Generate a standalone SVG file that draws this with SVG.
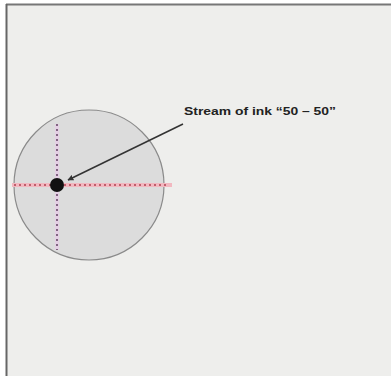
<svg xmlns="http://www.w3.org/2000/svg" width="391" height="377" viewBox="0 0 391 377">
<defs>
<style>
.lbl{font-family:"Liberation Sans",Arial,sans-serif;font-weight:bold;font-size:11px;fill:#222}
</style>
<marker id="ah" viewBox="0 0 10 10" refX="9" refY="5" markerWidth="6" markerHeight="6" orient="auto-start-reverse" markerUnits="userSpaceOnUse">
<path d="M0,0 L10,5 L0,10 z" fill="#333"/>
</marker>
</defs>
<rect x="0" y="0" width="391" height="377" fill="#ffffff"/>
<rect x="6" y="4" width="385" height="372" fill="#eeeeec"/>
<line x1="6" y1="4.5" x2="391" y2="4.5" stroke="#777" stroke-width="2"/>
<line x1="6.5" y1="4" x2="6.5" y2="376" stroke="#666" stroke-width="2"/>
<g id="circle">
<circle cx="89" cy="185" r="75" fill="#dcdcdc" stroke="#8a8a8a" stroke-width="1.2"/>
</g>
<g id="axes">
<line x1="12" y1="185" x2="172" y2="185" stroke="#f2b8c0" stroke-width="4"/>
<line x1="14" y1="185" x2="166" y2="185" stroke="#b04050" stroke-width="1.5" stroke-dasharray="2,3"/>
<line x1="57" y1="124" x2="57" y2="250" stroke="#e4d0e4" stroke-width="4"/>
<line x1="57" y1="124" x2="57" y2="250" stroke="#604060" stroke-width="1.5" stroke-dasharray="2,3"/>
</g>
<g id="dot">
<circle cx="57" cy="185" r="7" fill="#111"/>
</g>
<g id="connectors">
<line x1="183" y1="124" x2="68" y2="180" stroke="#333" stroke-width="1.5" marker-end="url(#ah)"/>
</g>
<g id="label">
<text class="lbl" x="184" y="115" textLength="152" lengthAdjust="spacingAndGlyphs">Stream of ink “50 – 50”</text>
</g>
</svg>
